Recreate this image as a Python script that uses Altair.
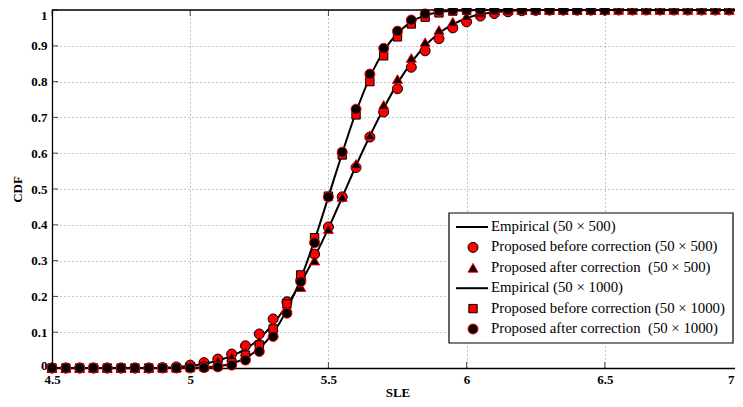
import altair as alt
import pandas as pd

# ---- data ----
sle_500 = [4.5, 4.55, 4.6, 4.65, 4.7, 4.75, 4.8, 4.85, 4.9, 4.95,
           5.0, 5.05, 5.1, 5.15, 5.2, 5.25, 5.3, 5.35, 5.4, 5.45,
           5.5, 5.55, 5.6, 5.65, 5.7, 5.75, 5.8, 5.85, 5.9, 5.95,
           6.0, 6.05, 6.1, 6.15, 6.2, 6.25, 6.3, 6.35, 6.4, 6.45,
           6.5, 6.55, 6.6, 6.65, 6.7, 6.75, 6.8, 6.85, 6.9, 6.95, 7.0]

emp_500 = [0, 0, 0, 0, 0, 0, 0, 0, 0.001, 0.003,
           0.006, 0.012, 0.021, 0.034, 0.053, 0.082, 0.123, 0.176, 0.238, 0.31,
           0.39, 0.477, 0.565, 0.648, 0.725, 0.795, 0.853, 0.9, 0.935, 0.96,
           0.977, 0.988, 0.994, 0.997, 0.999, 1, 1, 1, 1, 1,
           1, 1, 1, 1, 1, 1, 1, 1, 1, 1, 1]

before_500 = [0, 0, 0, 0, 0, 0, 0, 0, 0.001, 0.003,
              0.008, 0.015, 0.025, 0.039, 0.062, 0.095, 0.137, 0.185, 0.245, 0.318,
              0.394, 0.478, 0.56, 0.645, 0.715, 0.78, 0.84, 0.886, 0.92, 0.95,
              0.967, 0.983, 0.99, 0.995, 0.998, 0.999, 1, 1, 1, 1,
              1, 1, 1, 1, 1, 1, 1, 1, 1, 1, 1]

after_500 = [0, 0, 0, 0, 0, 0, 0, 0, 0.001, 0.002,
             0.006, 0.012, 0.02, 0.031, 0.046, 0.076, 0.115, 0.17, 0.226, 0.30,
             0.388, 0.478, 0.57, 0.65, 0.735, 0.807, 0.866, 0.91, 0.944, 0.967,
             0.983, 0.992, 0.997, 0.999, 1, 1, 1, 1, 1, 1,
             1, 1, 1, 1, 1, 1, 1, 1, 1, 1, 1]

emp_1000 = [0, 0, 0, 0, 0, 0, 0, 0, 0, 0,
            0.001, 0.002, 0.005, 0.012, 0.028, 0.055, 0.098, 0.163, 0.25, 0.357,
            0.478, 0.6, 0.715, 0.812, 0.885, 0.935, 0.967, 0.985, 0.994, 0.998,
            0.999, 1, 1, 1, 1, 1, 1, 1, 1, 1,
            1, 1, 1, 1, 1, 1, 1, 1, 1, 1, 1]

sle_1000 = sle_500[:41]

before_1000 = [0, 0, 0, 0, 0, 0, 0, 0, 0, 0,
               0.001, 0.003, 0.006, 0.015, 0.036, 0.064, 0.109, 0.179, 0.26, 0.364,
               0.48, 0.595, 0.707, 0.80, 0.872, 0.925, 0.961, 0.98, 0.992, 0.997,
               0.999, 1, 1, 1, 1, 1, 1, 1, 1, 1, 1]

after_1000 = [0, 0, 0, 0, 0, 0, 0, 0, 0, 0,
              0, 0.001, 0.003, 0.008, 0.022, 0.046, 0.088, 0.153, 0.241, 0.35,
              0.478, 0.603, 0.723, 0.821, 0.893, 0.941, 0.972, 0.989, 0.997, 0.999,
              1, 1, 1, 1, 1, 1, 1, 1, 1, 1, 1]

x_ticks = [4.5, 5, 5.5, 6, 6.5, 7]
y_ticks = [0, 0.1, 0.2, 0.3, 0.4, 0.5, 0.6, 0.7, 0.8, 0.9, 1]

legend_labels = [
    "Empirical (50 × 500)",
    "Proposed before correction (50 × 500)",
    "Proposed after correction \u00a0(50 × 500)",
    "Empirical (50 × 1000)",
    "Proposed before correction (50 × 1000)",
    "Proposed after correction \u00a0(50 × 1000)",
]

# ---- layout ----
W, H = 691, 358
FONT = "Liberation Serif"

xs = alt.Scale(domain=[4.5, 7], nice=False, zero=False)
ys = alt.Scale(domain=[0, 1], nice=False, zero=False)

x_axis = alt.Axis(values=x_ticks, format="~g", title="SLE", tickSize=0,
                  labelFlush=False, labelOverlap=False, labelPadding=5,
                  labelAlign={"condition": {"test": "datum.value >= 7", "value": "right"},
                              "value": "center"},
                  labelOffset={"condition": {"test": "datum.value >= 7", "value": -9},
                               "value": 0},
                  titlePadding=0, grid=True)
y_axis = alt.Axis(values=y_ticks, format="~g", title="CDF", tickSize=0,
                  labelFlush=False, labelOverlap=False, labelPadding=5,
                  labelOffset={"condition": [
                      {"test": "datum.value >= 1", "value": 5},
                      {"test": "datum.value <= 0", "value": -3}],
                      "value": 0},
                  titlePadding=6, grid=True)

X = alt.X("x:Q", scale=xs, axis=x_axis)
Y = alt.Y("y:Q", scale=ys, axis=y_axis)

df_e500 = pd.DataFrame({"x": sle_500, "y": emp_500})
df_e1000 = pd.DataFrame({"x": sle_500, "y": emp_1000})
df_b500 = pd.DataFrame({"x": sle_500, "y": before_500})
df_a500 = pd.DataFrame({"x": sle_500, "y": after_500})
df_b1000 = pd.DataFrame({"x": sle_1000, "y": before_1000})
df_a1000 = pd.DataFrame({"x": sle_1000, "y": after_1000})


def line_layer(df):
    return alt.Chart(df).mark_line(
        stroke="black", strokeWidth=2, interpolate="monotone"
    ).encode(x=X, y=Y)


def point_layer(df, shape, fill, stroke, size):
    return alt.Chart(df).mark_point(
        shape=shape, filled=True, fill=fill, stroke=stroke,
        strokeWidth=1, size=size, opacity=1
    ).encode(x=X, y=Y)


tick_x = pd.DataFrame({"x": x_ticks})
tick_y = pd.DataFrame({"y": y_ticks})

ticks_bottom = alt.Chart(tick_x).mark_tick(
    orient="vertical", color="black", size=6, thickness=1
).encode(x=X, y=alt.value(H - 3))
ticks_top = alt.Chart(tick_x).mark_tick(
    orient="vertical", color="black", size=6, thickness=1
).encode(x=X, y=alt.value(3))
ticks_left = alt.Chart(tick_y).mark_tick(
    orient="horizontal", color="black", size=6, thickness=1
).encode(y=Y, x=alt.value(3))
ticks_right = alt.Chart(tick_y).mark_tick(
    orient="horizontal", color="black", size=6, thickness=1
).encode(y=Y, x=alt.value(W - 3))

one = pd.DataFrame({"a": [0]})
top_border = alt.Chart(one).mark_rule(color="black", strokeWidth=1.3).encode(
    x=alt.value(0), x2=alt.value(W), y=alt.value(0))

# ---- manual legend ----
LX0, LX1, LY0, LY1 = 397, 681, 203, 333
row_y = [217, 237.4, 257.8, 278.2, 298.6, 319]
sym_x0, sym_x1, sym_c, text_x = 404, 436, 421, 439

legend_layers = [
    alt.Chart(one).mark_rect(fill="white", stroke="black", strokeWidth=1.2).encode(
        x=alt.value(LX0), x2=alt.value(LX1), y=alt.value(LY0), y2=alt.value(LY1))
]
symbols = [
    ("line", None, None, None),
    ("circle", "red", "black", 100),
    ("triangle-up", "black", "red", 100),
    ("line", None, None, None),
    ("square", "red", "black", 70),
    ("circle", "black", "red", 100),
]
for i, (shape, fill, stroke, size) in enumerate(symbols):
    if shape == "line":
        legend_layers.append(
            alt.Chart(one).mark_rule(color="black", strokeWidth=2).encode(
                x=alt.value(sym_x0), x2=alt.value(sym_x1), y=alt.value(row_y[i])))
    else:
        legend_layers.append(
            alt.Chart(one).mark_point(shape=shape, filled=True, fill=fill,
                                      stroke=stroke, strokeWidth=1, size=size,
                                      opacity=1).encode(
                x=alt.value(sym_c), y=alt.value(row_y[i])))
    legend_layers.append(
        alt.Chart(one).mark_text(align="left", baseline="middle", font=FONT,
                                 fontSize=14.8, color="black",
                                 text=legend_labels[i]).encode(
            x=alt.value(text_x), y=alt.value(row_y[i])))

chart = alt.layer(
    line_layer(df_e500),
    point_layer(df_b500, "circle", "red", "black", 100),
    point_layer(df_a500, "triangle-up", "black", "red", 100),
    line_layer(df_e1000),
    point_layer(df_b1000, "square", "red", "black", 70),
    point_layer(df_a1000, "circle", "black", "red", 100),
    ticks_bottom, ticks_top, ticks_left, ticks_right, top_border,
    *legend_layers,
).properties(
    width=W, height=H,
    autosize=alt.AutoSizeParams(type="none"),
    padding={"left": 44, "top": 2, "right": -8, "bottom": 31},
).configure_view(
    stroke=None
).configure_axis(
    labelFont=FONT, labelFontWeight="bold", labelFontSize=13, labelColor="black",
    titleFont=FONT, titleFontWeight="bold", titleFontSize=13, titleColor="black",
    domainColor="black", domainWidth=1.3,
    gridColor="#888888", gridDash=[1, 3], gridWidth=1, gridOpacity=1,
)

chart.save("out.html", embed_options={"renderer": "svg", "actions": False})
